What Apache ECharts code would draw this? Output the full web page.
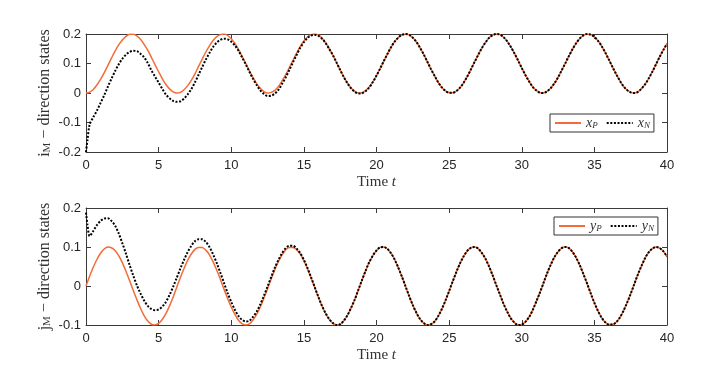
<!DOCTYPE html>
<html>
<head>
<meta charset="utf-8">
<script src="https://cdn.jsdelivr.net/npm/echarts@6/dist/echarts.min.js"></script>
<style>
    html, body { margin: 0; padding: 0; background: #fff; }
    #states { width: 719px; height: 373px; }
</style>
</head>
<body>
<div id="states"></div>
<script>
    // sample times
    const time = [0, 0.1, 0.25, 0.5, 0.75, 1, 1.25, 1.5, 1.75,
        2, 2.25, 2.5, 2.75, 3, 3.25, 3.5, 3.75,
        4, 4.25, 4.5, 4.75, 5, 5.25, 5.5, 5.75,
        6, 6.25, 6.5, 6.75, 7, 7.25, 7.5, 7.75,
        8, 8.25, 8.5, 8.75, 9, 9.25, 9.5, 9.75,
        10, 10.25, 10.5, 10.75, 11, 11.25, 11.5, 11.75,
        12, 12.25, 12.5, 12.75, 13, 13.25, 13.5, 13.75,
        14, 14.25, 14.5, 14.75, 15, 15.25, 15.5, 15.75,
        16, 16.25, 16.5, 16.75, 17, 17.25, 17.5, 17.75,
        18, 18.25, 18.5, 18.75, 19, 19.25, 19.5, 19.75,
        20, 20.25, 20.5, 20.75, 21, 21.25, 21.5, 21.75,
        22, 22.25, 22.5, 22.75, 23, 23.25, 23.5, 23.75,
        24, 24.25, 24.5, 24.75, 25, 25.25, 25.5, 25.75,
        26, 26.25, 26.5, 26.75, 27, 27.25, 27.5, 27.75,
        28, 28.25, 28.5, 28.75, 29, 29.25, 29.5, 29.75,
        30, 30.25, 30.5, 30.75, 31, 31.25, 31.5, 31.75,
        32, 32.25, 32.5, 32.75, 33, 33.25, 33.5, 33.75,
        34, 34.25, 34.5, 34.75, 35, 35.25, 35.5, 35.75,
        36, 36.25, 36.5, 36.75, 37, 37.25, 37.5, 37.75,
        38, 38.25, 38.5, 38.75, 39, 39.25, 39.5, 39.75,
        40];

    // i_M direction
    const xP = [0, 0.000, 0.003, 0.012, 0.027, 0.046, 0.068, 0.093, 0.118,
        0.142, 0.163, 0.180, 0.192, 0.199, 0.199, 0.194, 0.182,
        0.165, 0.145, 0.121, 0.096, 0.072, 0.049, 0.029, 0.014,
        0.004, 0.000, 0.002, 0.011, 0.025, 0.043, 0.065, 0.090,
        0.115, 0.139, 0.160, 0.178, 0.191, 0.198, 0.200, 0.195,
        0.184, 0.168, 0.148, 0.124, 0.100, 0.075, 0.052, 0.032,
        0.016, 0.005, 0.000, 0.002, 0.009, 0.022, 0.041, 0.062,
        0.086, 0.111, 0.135, 0.158, 0.176, 0.190, 0.198, 0.200,
        0.196, 0.186, 0.170, 0.150, 0.128, 0.103, 0.078, 0.055,
        0.034, 0.017, 0.006, 0.000, 0.001, 0.008, 0.020, 0.038,
        0.059, 0.083, 0.108, 0.132, 0.155, 0.174, 0.188, 0.197,
        0.200, 0.197, 0.187, 0.173, 0.153, 0.131, 0.106, 0.081,
        0.058, 0.036, 0.019, 0.007, 0.001, 0.001, 0.007, 0.018,
        0.035, 0.056, 0.080, 0.105, 0.129, 0.152, 0.171, 0.187,
        0.196, 0.200, 0.198, 0.189, 0.175, 0.156, 0.134, 0.110,
        0.085, 0.061, 0.040, 0.021, 0.009, 0.001, 0.000, 0.006,
        0.017, 0.033, 0.053, 0.077, 0.101, 0.126, 0.149, 0.169,
        0.185, 0.195, 0.200, 0.198, 0.190, 0.177, 0.159, 0.137,
        0.113, 0.088, 0.064, 0.042, 0.023, 0.010, 0.002, 0.000,
        0.004, 0.015, 0.030, 0.050, 0.073, 0.098, 0.123, 0.146,
        0.167];
    const xN = [-0.200, -0.160, -0.107, -0.082, -0.060, -0.034, -0.008, 0.021, 0.048,
        0.074, 0.097, 0.116, 0.130, 0.139, 0.143, 0.142, 0.133,
        0.121, 0.102, 0.077, 0.056, 0.035, 0.014, -0.005, -0.018,
        -0.027, -0.030, -0.028, -0.019, -0.005, 0.013, 0.036, 0.062,
        0.088, 0.113, 0.136, 0.156, 0.171, 0.180, 0.184, 0.182,
        0.174, 0.161, 0.143, 0.120, 0.097, 0.072, 0.048, 0.027,
        0.009, -0.003, -0.010, -0.009, -0.002, 0.011, 0.031, 0.053,
        0.078, 0.104, 0.129, 0.153, 0.172, 0.187, 0.195, 0.197,
        0.194, 0.184, 0.169, 0.149, 0.128, 0.103, 0.078, 0.054,
        0.033, 0.016, 0.004, -0.002, -0.001, 0.006, 0.019, 0.037,
        0.059, 0.083, 0.108, 0.132, 0.155, 0.174, 0.188, 0.197,
        0.200, 0.197, 0.187, 0.173, 0.153, 0.131, 0.106, 0.081,
        0.058, 0.036, 0.019, 0.007, 0.001, 0.001, 0.007, 0.018,
        0.035, 0.056, 0.080, 0.105, 0.129, 0.152, 0.171, 0.187,
        0.196, 0.200, 0.198, 0.189, 0.175, 0.156, 0.134, 0.110,
        0.085, 0.061, 0.040, 0.021, 0.009, 0.001, 0.000, 0.006,
        0.017, 0.033, 0.053, 0.077, 0.101, 0.126, 0.149, 0.169,
        0.185, 0.195, 0.200, 0.198, 0.190, 0.177, 0.159, 0.137,
        0.113, 0.088, 0.064, 0.042, 0.023, 0.010, 0.002, 0.000,
        0.004, 0.015, 0.030, 0.050, 0.073, 0.098, 0.123, 0.146,
        0.167];

    // j_M direction
    const yP = [0, 0.010, 0.025, 0.048, 0.068, 0.084, 0.095, 0.100, 0.098,
        0.091, 0.078, 0.060, 0.038, 0.014, -0.011, -0.035, -0.057,
        -0.076, -0.090, -0.098, -0.100, -0.096, -0.086, -0.071, -0.051,
        -0.028, -0.003, 0.022, 0.045, 0.066, 0.082, 0.094, 0.099,
        0.099, 0.092, 0.080, 0.062, 0.041, 0.017, -0.008, -0.032,
        -0.054, -0.073, -0.088, -0.097, -0.100, -0.097, -0.087, -0.073,
        -0.054, -0.031, -0.007, 0.018, 0.042, 0.063, 0.080, 0.093,
        0.099, 0.099, 0.093, 0.082, 0.065, 0.044, 0.020, -0.004,
        -0.029, -0.052, -0.071, -0.086, -0.096, -0.100, -0.098, -0.089,
        -0.075, -0.056, -0.035, -0.010, 0.015, 0.039, 0.061, 0.078,
        0.091, 0.099, 0.100, 0.095, 0.084, 0.068, 0.047, 0.024,
        -0.001, -0.026, -0.049, -0.069, -0.085, -0.095, -0.100, -0.098,
        -0.091, -0.077, -0.059, -0.037, -0.013, 0.012, 0.036, 0.058,
        0.076, 0.090, 0.098, 0.100, 0.096, 0.085, 0.070, 0.050,
        0.027, 0.002, -0.022, -0.046, -0.066, -0.083, -0.094, -0.100,
        -0.099, -0.092, -0.080, -0.062, -0.040, -0.017, 0.008, 0.033,
        0.055, 0.074, 0.088, 0.097, 0.100, 0.097, 0.087, 0.072,
        0.053, 0.030, 0.006, -0.019, -0.043, -0.064, -0.081, -0.093,
        -0.099, -0.099, -0.093, -0.081, -0.064, -0.043, -0.020, 0.005,
        0.030, 0.052, 0.072, 0.087, 0.096, 0.100, 0.097, 0.089,
        0.075];
    const yN = [0.188, 0.158, 0.128, 0.141, 0.156, 0.167, 0.173, 0.174, 0.167,
        0.155, 0.135, 0.110, 0.083, 0.054, 0.027, 0.002, -0.019,
        -0.037, -0.051, -0.059, -0.062, -0.060, -0.053, -0.041, -0.023,
        -0.002, 0.021, 0.045, 0.067, 0.087, 0.103, 0.115, 0.120,
        0.120, 0.113, 0.100, 0.081, 0.059, 0.034, 0.008, -0.018,
        -0.041, -0.061, -0.077, -0.087, -0.091, -0.089, -0.079, -0.066,
        -0.047, -0.025, -0.001, 0.023, 0.047, 0.067, 0.084, 0.097,
        0.103, 0.103, 0.096, 0.084, 0.067, 0.046, 0.022, -0.003,
        -0.028, -0.051, -0.070, -0.085, -0.095, -0.100, -0.098, -0.089,
        -0.075, -0.056, -0.035, -0.010, 0.015, 0.039, 0.061, 0.078,
        0.091, 0.099, 0.100, 0.095, 0.084, 0.068, 0.047, 0.024,
        -0.001, -0.026, -0.049, -0.069, -0.085, -0.095, -0.100, -0.098,
        -0.091, -0.077, -0.059, -0.037, -0.013, 0.012, 0.036, 0.058,
        0.076, 0.090, 0.098, 0.100, 0.096, 0.085, 0.070, 0.050,
        0.027, 0.002, -0.022, -0.046, -0.066, -0.083, -0.094, -0.100,
        -0.099, -0.092, -0.080, -0.062, -0.040, -0.017, 0.008, 0.033,
        0.055, 0.074, 0.088, 0.097, 0.100, 0.097, 0.087, 0.072,
        0.053, 0.030, 0.006, -0.019, -0.043, -0.064, -0.081, -0.093,
        -0.099, -0.099, -0.093, -0.081, -0.064, -0.043, -0.020, 0.005,
        0.030, 0.052, 0.072, 0.087, 0.096, 0.100, 0.097, 0.089,
        0.075];

    const xTicks = { min: 0, max: 40, interval: 5 };
    const yTicksTop = { min: -0.2, max: 0.2, interval: 0.1 };
    const yTicksBottom = { min: -0.1, max: 0.2, interval: 0.1 };

    const SERIF = "'Liberation Serif', 'Times New Roman', serif";
    const SANS = "'Liberation Sans', Arial, sans-serif";
    const INK = '#262626';
    const ORANGE = '#f26b38';

    const pair = (vals) => time.map((t, i) => [t, vals[i]]);

    // box axis (MATLAB style ticks inside on all four sides)
    const boxLine = { show: true, onZero: false, lineStyle: { color: '#3a3a3a', width: 1 } };
    const boxTick = { show: true, inside: true, length: 5, lineStyle: { color: '#3a3a3a', width: 1 } };
    const tickLabel = { color: INK, fontFamily: SANS, fontSize: 13 };

    const timeName = {
        name: '{a|Time }{b|t}',
        nameLocation: 'middle',
        nameGap: 23,
        nameTextStyle: {
            rich: {
                a: { fontFamily: SERIF, fontSize: 15, color: '#333' },
                b: { fontFamily: SERIF, fontSize: 15, fontStyle: 'italic', color: '#333' }
            }
        }
    };

    function xAxes(gridIndex) {
        return [
            Object.assign({
                gridIndex, type: 'value', position: 'bottom',
                ...xTicks,
                axisLine: boxLine, axisTick: boxTick,
                axisLabel: Object.assign({ margin: 7 }, tickLabel),
                splitLine: { show: false }
            }, timeName),
            {
                gridIndex, type: 'value', position: 'top',
                ...xTicks,
                axisLine: boxLine, axisTick: boxTick,
                axisLabel: { show: false },
                splitLine: { show: false }
            }
        ];
    }

    function yAxes(gridIndex, ticks, letter) {
        return [
            {
                gridIndex, type: 'value', position: 'left',
                ...ticks,
                axisLine: boxLine, axisTick: boxTick,
                axisLabel: Object.assign({ margin: 5 }, tickLabel),
                splitLine: { show: false },
                name: '{i|' + letter + '}{s|M}{t| \u2212 direction states}',
                nameLocation: 'middle',
                nameGap: 33,
                nameMoveOverlap: false,
                nameTextStyle: {
                    rich: {
                        i: { fontFamily: SERIF, fontSize: 16, color: '#333' },
                        s: { fontFamily: SERIF, fontSize: 11, color: '#333', padding: [6, 0, 0, 0] },
                        t: { fontFamily: SERIF, fontSize: 16, color: '#333' }
                    }
                }
            },
            {
                gridIndex, type: 'value', position: 'right',
                ...ticks,
                axisLine: boxLine, axisTick: boxTick,
                axisLabel: { show: false },
                splitLine: { show: false }
            }
        ];
    }

    function legendBox(names, left, top) {
        return {
            data: names,
            left, top,
            orient: 'horizontal',
            itemWidth: 26,
            itemHeight: 10,
            itemGap: 8,
            padding: [2, 4, 2, 4],
            borderColor: '#333',
            borderWidth: 1,
            borderRadius: 0,
            backgroundColor: '#fff',
            selectedMode: false,
            // hide the marker that line legends draw in the middle
            itemStyle: { opacity: 0 },
            formatter: (name) => '{v|' + name[0] + '}{s|' + name[1] + '}',
            textStyle: {
                rich: {
                    v: { fontFamily: SERIF, fontStyle: 'italic', fontSize: 14, color: '#333' },
                    s: { fontFamily: SERIF, fontStyle: 'italic', fontSize: 9, color: '#333', padding: [5, 0, 0, 0] }
                }
            }
        };
    }

    function curve(name, vals, axisIdx, dotted) {
        return {
            name,
            type: 'line',
            xAxisIndex: axisIdx,
            yAxisIndex: axisIdx,
            data: pair(vals),
            smooth: 0.3,
            symbol: 'none',
            clip: true,
            lineStyle: dotted
                ? { color: '#000', width: 2, type: [2, 1.6], cap: 'butt' }
                : { color: ORANGE, width: 1.5 },
            itemStyle: { color: dotted ? '#000' : ORANGE },
            z: dotted ? 3 : 2
        };
    }

    const chart = echarts.init(document.getElementById('states'), null, { renderer: 'canvas' });
    chart.setOption({
        animation: false,
        backgroundColor: '#fff',
        grid: [
            { left: 86, top: 34, width: 581, height: 118, outerBoundsMode: 'none', containLabel: false },
            { left: 86, top: 208, width: 581, height: 117, outerBoundsMode: 'none', containLabel: false }
        ],
        xAxis: [...xAxes(0), ...xAxes(1)],
        yAxis: [...yAxes(0, yTicksTop, 'i'), ...yAxes(1, yTicksBottom, 'j')],
        legend: [
            legendBox(['xP', 'xN'], 550, 114),
            legendBox(['yP', 'yN'], 554, 217)
        ],
        series: [
            curve('xP', xP, 0, false),
            curve('xN', xN, 0, true),
            curve('yP', yP, 2, false),
            curve('yN', yN, 2, true)
        ]
    });
    window.addEventListener('resize', () => { chart && chart.resize(); }, false);
</script>
</body>
</html>
